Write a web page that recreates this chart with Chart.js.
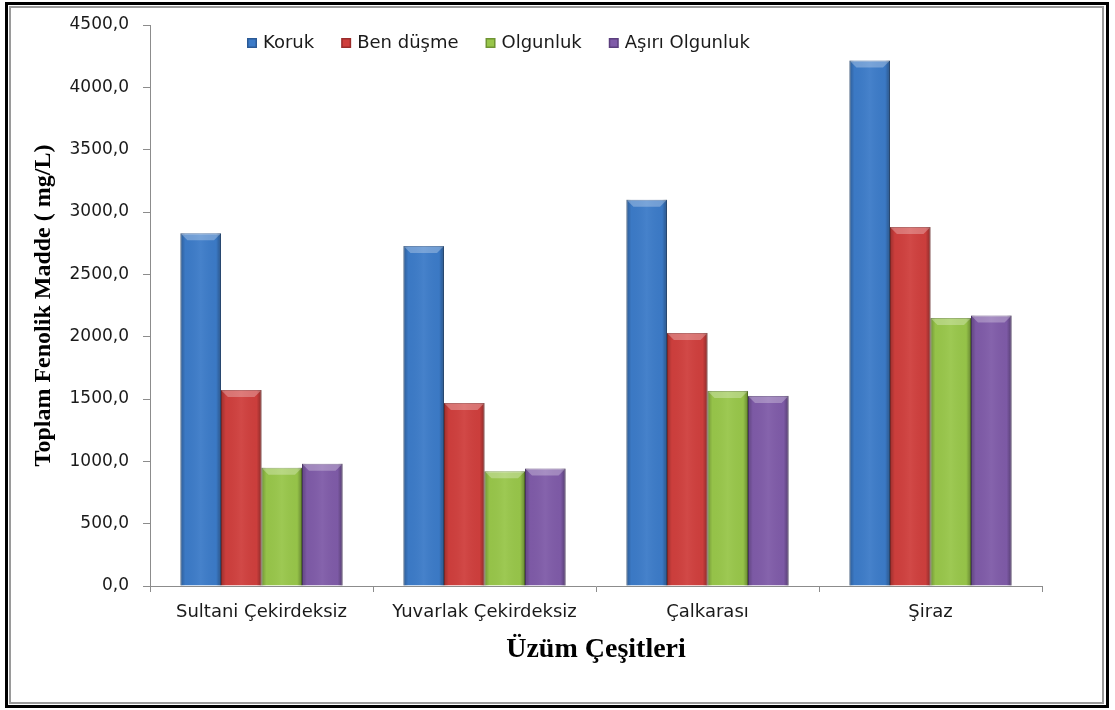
<!DOCTYPE html>
<html>
<head>
<meta charset="utf-8">
<script src="https://cdn.jsdelivr.net/npm/chart.js@4"></script>
<style>
  html, body { margin: 0; padding: 0; background: #fff; }
  #wrap { width: 1115px; height: 710px; position: relative; }
</style>
</head>
<body>
<div id="wrap"><canvas id="chart" width="1115" height="710"></canvas></div>
<script>
// data
const categories = ["Sultani Çekirdeksiz", "Yuvarlak Çekirdeksiz", "Çalkarası", "Şiraz"];
const seriesNames = ["Koruk", "Ben düşme", "Olgunluk", "Aşırı Olgunluk"];
const koruk = [2830, 2727, 3099, 4215];
const benDusme = [1572, 1468, 2030, 2879];
const olgunluk = [949, 920, 1565, 2150];
const asiriOlgunluk = [981, 942, 1525, 2170];

const colors = ["#3c7bc8", "#cf3f3d", "#98c64a", "#7f5ba8"];
const edgeColors = ["#2b5a96", "#9a2c2b", "#6f9433", "#5b3f7e"];
const tickFont = "'DejaVu Sans', 'Open Sans', sans-serif";
const titleFont = "'Liberation Serif', 'Times New Roman', serif";

const ctx = document.getElementById("chart");

// frame around the whole picture
const framePlugin = {
  id: "frame",
  beforeDraw(chart) {
    const c = chart.ctx;
    c.save();
    c.fillStyle = "#fff";
    c.fillRect(0, 0, chart.width, chart.height);
    c.restore();
  },
  afterDraw(chart) {
    const c = chart.ctx;
    c.save();
    c.strokeStyle = "#000";
    c.lineWidth = 3;
    c.strokeRect(6.5, 3.5, 1101, 703);
    c.strokeStyle = "#9a9a9a";
    c.lineWidth = 2;
    c.strokeRect(10, 7, 1093, 696);
    c.restore();
  },
};

// shading on the bars to get the bevelled office look
const bevelPlugin = {
  id: "bevel",
  afterDatasetsDraw(chart) {
    const c = chart.ctx;
    c.save();
    chart.data.datasets.forEach((ds, di) => {
      chart.getDatasetMeta(di).data.forEach((bar) => {
        const { x, y, base, width } = bar.getProps(["x", "y", "base", "width"], true);
        const left = x - width / 2;
        const h = base - y;
        const g = c.createLinearGradient(left, 0, left + width, 0);
        g.addColorStop(0, "rgba(0,0,0,0.25)");
        g.addColorStop(0.12, "rgba(0,0,0,0.02)");
        g.addColorStop(0.5, "rgba(255,255,255,0.05)");
        g.addColorStop(0.88, "rgba(0,0,0,0.02)");
        g.addColorStop(1, "rgba(0,0,0,0.32)");
        c.fillStyle = g;
        c.fillRect(left, y, width, h);
        const b = Math.min(7, h / 2);
        c.beginPath();
        c.moveTo(left, y);
        c.lineTo(left + width, y);
        c.lineTo(left + width - b, y + b);
        c.lineTo(left + b, y + b);
        c.closePath();
        c.fillStyle = "rgba(255,255,255,0.28)";
        c.fill();
      });
    });
    c.restore();
  },
};

// legend sits inside the plot area, so it is drawn by hand
const legendPlugin = {
  id: "insideLegend",
  afterDraw(chart) {
    const c = chart.ctx;
    c.save();
    c.font = "18px " + tickFont;
    c.textBaseline = "middle";
    let x = 247;
    const y = 43;
    chart.data.datasets.forEach((ds, i) => {
      c.fillStyle = edgeColors[i];
      c.fillRect(x, y - 5, 10, 10);
      c.fillStyle = colors[i];
      c.fillRect(x + 1.5, y - 3.5, 7, 7);
      c.fillStyle = "#1a1a1a";
      c.fillText(ds.label, x + 16, y);
      x += 16 + c.measureText(ds.label).width + 27;
    });
    c.restore();
  },
};

new Chart(ctx, {
  type: "bar",
  data: {
    labels: categories,
    datasets: [koruk, benDusme, olgunluk, asiriOlgunluk].map((values, i) => ({
      label: seriesNames[i],
      data: values,
      backgroundColor: colors[i],
      borderColor: edgeColors[i],
      borderWidth: 1,
      categoryPercentage: 0.727,
      barPercentage: 1,
    })),
  },
  options: {
    responsive: false,
    animation: false,
    layout: { padding: { left: 10, right: 73, top: 25, bottom: 14 } },
    plugins: {
      legend: { display: false },
      tooltip: { enabled: false },
    },
    scales: {
      x: {
        grid: { drawOnChartArea: false, offset: true, tickLength: 6, color: "#8c8c8c" },
        border: { color: "#8c8c8c" },
        ticks: { font: { family: tickFont, size: 18 }, color: "#1a1a1a", padding: 10 },
        title: {
          display: true,
          text: "Üzüm Çeşitleri",
          color: "#000",
          font: { family: titleFont, size: 28, weight: "bold" },
          padding: { top: 0, bottom: 29 },
        },
        afterFit: (s) => { s.height = 110; },
      },
      y: {
        min: 0,
        max: 4500,
        grid: { drawOnChartArea: false, tickLength: 7, color: "#8c8c8c" },
        border: { color: "#8c8c8c" },
        ticks: {
          stepSize: 500,
          font: { family: tickFont, size: 17 },
          color: "#1a1a1a",
          padding: 14,
          callback: (v) => v.toFixed(1).replace(".", ","),
        },
        title: {
          display: true,
          text: "Toplam Fenolik Madde ( mg/L)",
          color: "#000",
          font: { family: titleFont, size: 24, weight: "bold" },
          padding: { top: 19, bottom: 0 },
        },
        afterFit: (s) => { s.width = 140; },
      },
    },
  },
  plugins: [framePlugin, bevelPlugin, legendPlugin],
});
</script>
</body>
</html>
